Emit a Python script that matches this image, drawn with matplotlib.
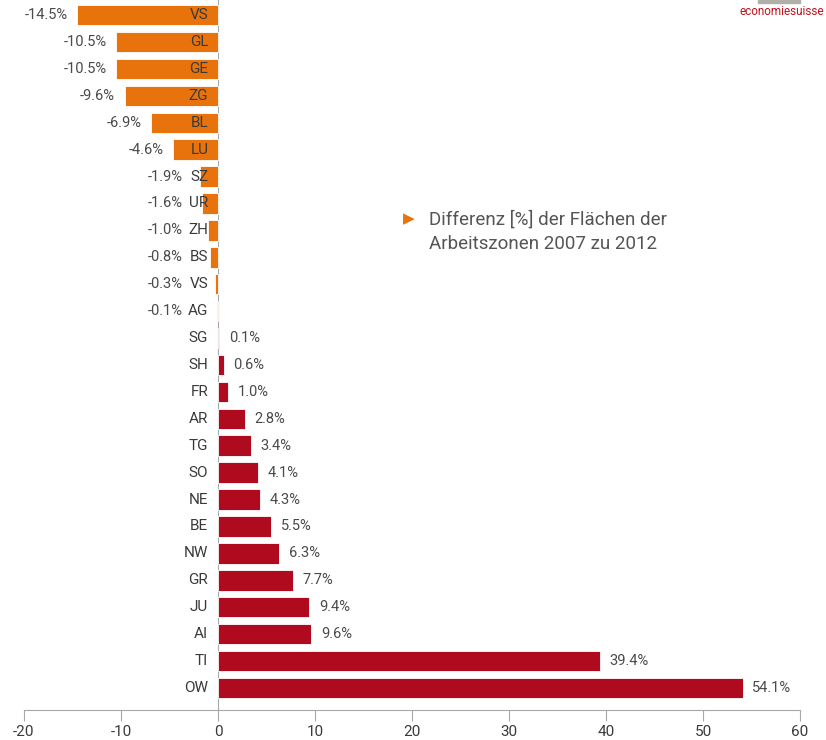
"""Bar chart: change in industrial zone area per canton, 2007 to 2012."""

import matplotlib
matplotlib.use("Agg")
import matplotlib.pyplot as plt
from matplotlib.patches import Rectangle

plt.rcParams["font.family"] = ["Roboto", "DejaVu Sans"]

cantons = ["VS", "GL", "GE", "ZG", "BL", "LU", "SZ", "UR", "ZH", "BS", "VS", "AG",
           "SG", "SH", "FR", "AR", "TG", "SO", "NE", "BE", "NW", "GR", "JU", "AI",
           "TI", "OW"]
values = [-14.5, -10.5, -10.5, -9.6, -6.9, -4.6, -1.9, -1.6, -1.0, -0.8, -0.3, -0.1,
          0.1, 0.6, 1.0, 2.8, 3.4, 4.1, 4.3, 5.5, 6.3, 7.7, 9.4, 9.6, 39.4, 54.1]
xticks = [-20, -10, 0, 10, 20, 30, 40, 50, 60]

ORANGE = "#E8720C"
RED = "#B00A1E"
TEXT = "#3a3a3a"
AXIS = "#a8a8a8"

fig = plt.figure(figsize=(8.26, 7.4), dpi=100)
ax = fig.add_axes([0.029, 0.0405, 0.9395, 0.9595])

ypos = list(range(len(values)))
colors = [ORANGE if v < 0 else RED for v in values]
ax.barh(ypos, values, height=0.76, color=colors, edgecolor="white", linewidth=0.6, zorder=2)

for y, name, v in zip(ypos, cantons, values):
    ax.text(-1.0, y, name, ha="right", va="center", fontsize=11, color=TEXT, zorder=3)
    if v < 0:
        ax.text(min(v, -2.6) - 1.0, y, f"{v:.1f}%", ha="right", va="center",
                fontsize=10.5, color="#4a4a4a")
    else:
        ax.text(v + 1.0, y, f"{v:.1f}%", ha="left", va="center",
                fontsize=10.5, color="#4a4a4a")

ax.set_xlim(-20, 60)
ax.set_ylim(25.82, -0.56)
ax.set_xticks(xticks)
ax.set_xticklabels([str(t) for t in xticks], fontsize=11, color=TEXT)
ax.set_yticks([])
ax.tick_params(axis="x", length=8, color=AXIS, width=0.8, pad=3)

for side in ["top", "right", "left"]:
    ax.spines[side].set_visible(False)
ax.spines["bottom"].set_color(AXIS)
ax.spines["bottom"].set_linewidth(0.8)
ax.axvline(0, color=AXIS, linewidth=0.8, zorder=1)

# legend note
fig.text(0.488, 0.704, "\u25B6", fontsize=11, color=ORANGE, ha="left", va="center",
         family=["DejaVu Sans"])
fig.text(0.519, 0.703, "Differenz [%] der Flächen der", fontsize=13.5, color="#555555",
         ha="left", va="center")
fig.text(0.519, 0.670, "Arbeitszonen 2007 zu 2012", fontsize=13.5, color="#555555",
         ha="left", va="center")

# logo
fig.patches.append(Rectangle((0.918, 0.996), 0.05, 0.004, transform=fig.transFigure,
                             color="#b0b0a8", zorder=5))
fig.text(0.998, 0.985, "economiesuisse", fontsize=8.5, color="#c0141e", ha="right",
         va="center")

fig.savefig("out.png", dpi=100)
